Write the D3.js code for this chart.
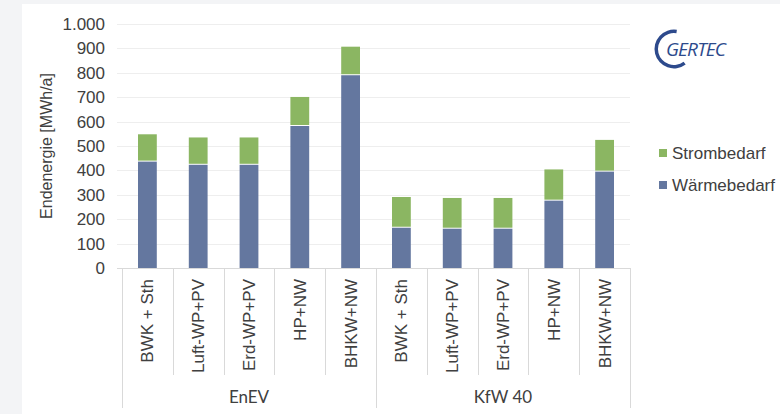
<!doctype html>
<html lang="de">
<head>
<meta charset="utf-8">
<script src="https://d3js.org/d3.v7.min.js"></script>
<style>
  body { margin: 0; background: #f3f4f6; }
  svg { display: block; }
  text { font-family: "Liberation Sans", Arial, sans-serif; fill: #404040; }
</style>
</head>
<body>
<script>
// Daten
var groups = ["EnEV", "KfW 40"];
var categories = ["BWK + Sth", "Luft-WP+PV", "Erd-WP+PV", "HP+NW", "BHKW+NW"];
var waerme = [436, 423, 423, 582, 790, 165, 161, 161, 276, 395];
var strom  = [112, 112, 112, 119, 117, 126, 126, 126, 128, 130];
var seriesNames = ["Wärmebedarf", "Strombedarf"];
var yTicks = [0, 100, 200, 300, 400, 500, 600, 700, 800, 900, 1000];

var w = 780, h = 414;
var colors = { "Wärmebedarf": "#64779f", "Strombedarf": "#8bb662" };

var pLeft = 122, pRight = 630, pTop = 24, pBottom = 268;

var svg = d3.select("body").append("svg")
  .attr("width", w)
  .attr("height", h);

// weisses Panel
svg.append("rect").attr("x", 22).attr("y", 4).attr("width", w - 22).attr("height", h - 4).attr("fill", "#fff");

var rows = [];
groups.forEach(function(g, gi) {
  categories.forEach(function(c, ci) {
    var i = gi * categories.length + ci;
    rows.push({ key: g + "|" + c, group: g, cat: c, "Wärmebedarf": waerme[i], "Strombedarf": strom[i] });
  });
});

var x = d3.scaleBand().domain(rows.map(function(d) { return d.key; })).range([pLeft, pRight]);
var y = d3.scaleLinear().domain([0, 1000]).range([pBottom, pTop]);
var de = d3.formatLocale({ decimal: ",", thousands: ".", grouping: [3], currency: ["", "€"] }).format(",.0f");

// Gitterlinien
svg.append("g").selectAll("line").data(yTicks.filter(function(t) { return t > 0; }))
  .join("line")
  .attr("x1", pLeft - 5).attr("x2", pRight)
  .attr("y1", function(d) { return Math.round(y(d)) + 0.5; }).attr("y2", function(d) { return Math.round(y(d)) + 0.5; })
  .attr("stroke", "#eeeeee");

// y-Achse Beschriftung
svg.append("g").selectAll("text").data(yTicks)
  .join("text")
  .attr("x", 105).attr("y", function(d) { return y(d); })
  .attr("dy", "0.35em")
  .attr("text-anchor", "end")
  .style("font-size", "17px")
  .text(function(d) { return de(d); });

svg.append("text")
  .attr("transform", "translate(52," + ((pTop + pBottom) / 2) + ") rotate(-90)")
  .attr("text-anchor", "middle")
  .style("font-size", "16px")
  .text("Endenergie [MWh/a]");

// Balken
var stack = d3.stack().keys(seriesNames)(rows);
var bw = x.bandwidth() * 0.37;
svg.append("g").selectAll("g").data(stack)
  .join("g")
  .attr("fill", function(s) { return colors[s.key]; })
  .selectAll("rect").data(function(s) { return s.map(function(d) { d.series = s.key; return d; }); })
  .join("rect")
  .attr("x", function(d) { return x(d.data.key) + (x.bandwidth() - bw) / 2; })
  .attr("width", bw)
  .attr("y", function(d) { return y(d[1]); })
  .attr("height", function(d) { return y(d[0]) - y(d[1]) - (d.series === "Strombedarf" ? 1 : 0); });

// Null-Linie und Trenner
svg.append("line").attr("x1", pLeft - 5).attr("x2", pRight).attr("y1", pBottom + 0.5).attr("y2", pBottom + 0.5).attr("stroke", "#d9d9d9");
var bounds = rows.map(function(d) { return x(d.key); }).concat([pRight]);
svg.append("g").selectAll("line").data(bounds)
  .join("line")
  .attr("x1", function(d) { return Math.round(d) + 0.5; }).attr("x2", function(d) { return Math.round(d) + 0.5; })
  .attr("y1", pBottom)
  .attr("y2", function(d, i) { return i % categories.length === 0 ? 408 : 375; })
  .attr("stroke", "#d9d9d9");

// Kategorien
svg.append("g").selectAll("text").data(rows)
  .join("text")
  .attr("transform", function(d) { return "translate(" + (x(d.key) + x.bandwidth() / 2) + ",279) rotate(-90)"; })
  .attr("dy", "0.35em")
  .attr("text-anchor", "end")
  .style("font-size", "17px")
  .text(function(d) { return d.cat; });

svg.append("g").selectAll("text").data(groups)
  .join("text")
  .attr("x", function(g) { return x(g + "|" + categories[2]) + x.bandwidth() / 2; })
  .attr("y", 397)
  .attr("dy", "0.35em")
  .attr("text-anchor", "middle")
  .style("font-family", "Lato, sans-serif")
  .style("font-size", "17px")
  .text(function(g) { return g; });

// Legende
var leg = svg.append("g").selectAll("g").data(["Strombedarf", "Wärmebedarf"])
  .join("g")
  .attr("transform", function(d, i) { return "translate(659," + (153 + i * 32) + ")"; });
leg.append("rect").attr("x", 0).attr("y", -4).attr("width", 8).attr("height", 8)
  .attr("fill", function(d) { return colors[d]; });
leg.append("text").attr("x", 13).attr("dy", "0.35em").style("font-size", "17px").text(function(d) { return d; });

// Logo
var logo = svg.append("g").attr("transform", "translate(674,49)");
logo.append("path")
  .attr("d", d3.arc().innerRadius(16).outerRadius(19.5).startAngle(2.5).endAngle(Math.PI * 2 + 0.15))
  .attr("fill", "#2d4a8c");
logo.append("text")
  .attr("x", -8).attr("y", 7)
  .style("font-family", "'Open Sans', sans-serif")
  .style("font-style", "italic")
  .style("font-size", "19px")
  .style("fill", "#2d4a8c")
  .attr("textLength", 60)
  .text("GERTEC");
</script>
</body>
</html>
